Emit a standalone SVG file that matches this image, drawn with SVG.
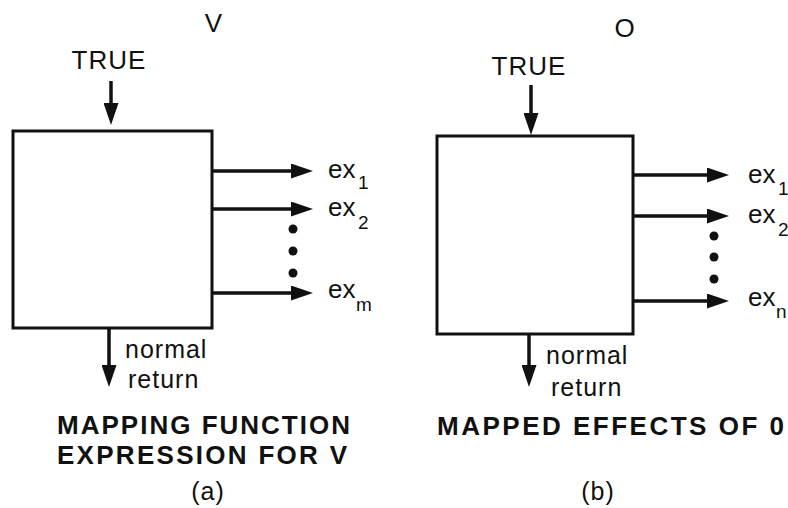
<svg xmlns="http://www.w3.org/2000/svg" width="788" height="508" viewBox="0 0 788 508">
<style>
text{font-family:"Liberation Sans",Arial,sans-serif;fill:#111}
.lbl{font-size:25px;letter-spacing:1px}
.hd{font-size:26px;letter-spacing:1px}
.ex{font-size:26px}
.sub{font-size:19px}
.ttl{font-size:26px;font-weight:bold}
.box{fill:none;stroke:#111;stroke-width:3}
.arr{stroke:#111;stroke-width:3.5;fill:none;marker-end:url(#ah)}
.dot{fill:#111}
</style>
<defs>
<marker id="ah" markerUnits="userSpaceOnUse" markerWidth="22" markerHeight="15" refX="15" refY="7.5" orient="auto">
<path d="M0,0 L22,7.5 L0,15 z" fill="#111"/>
</marker>
</defs>
<rect width="788" height="508" fill="#fff"/>
<g id="left">
<text x="214" y="32" class="hd" text-anchor="middle">V</text>
<text x="109" y="69" class="hd" text-anchor="middle">TRUE</text>
<g id="boxA"><rect class="box" x="13" y="131" width="199" height="197"/></g>
<text x="328" y="178" class="ex">ex<tspan class="sub" x="358" y="189">1</tspan></text>
<text x="328" y="216" class="ex">ex<tspan class="sub" x="358" y="229">2</tspan></text>
<text x="328" y="298" class="ex">ex<tspan class="sub" x="356" y="311">m</tspan></text>
<circle class="dot" cx="293" cy="229" r="4.5"/>
<circle class="dot" cx="293" cy="251" r="4.5"/>
<circle class="dot" cx="293" cy="273" r="4.5"/>
<text x="125" y="358" class="lbl">normal</text>
<text x="128" y="388" class="lbl">return</text>
<text x="57" y="434" class="ttl" textLength="293" lengthAdjust="spacing">MAPPING  FUNCTION</text>
<text x="57" y="464" class="ttl" textLength="290" lengthAdjust="spacing">EXPRESSION  FOR  V</text>
<text x="208" y="500" class="lbl" text-anchor="middle">(a)</text>
</g>
<g id="right">
<text x="625" y="37" class="hd" text-anchor="middle">O</text>
<text x="529" y="75" class="hd" text-anchor="middle">TRUE</text>
<g id="boxB"><rect class="box" x="437" y="136" width="196" height="198"/></g>
<text x="748" y="183" class="ex">ex<tspan class="sub" x="778" y="195">1</tspan></text>
<text x="748" y="223" class="ex">ex<tspan class="sub" x="778" y="236">2</tspan></text>
<text x="748" y="306" class="ex">ex<tspan class="sub" x="776" y="318">n</tspan></text>
<circle class="dot" cx="714" cy="236" r="4.5"/>
<circle class="dot" cx="714" cy="257" r="4.5"/>
<circle class="dot" cx="714" cy="279" r="4.5"/>
<text x="546" y="364" class="lbl">normal</text>
<text x="551" y="396" class="lbl">return</text>
<text x="437" y="435" class="ttl" textLength="347" lengthAdjust="spacing">MAPPED  EFFECTS  OF  0</text>
<text x="598" y="500" class="lbl" text-anchor="middle">(b)</text>
</g>
<g id="connectors">
<line class="arr" x1="111" y1="81" x2="111" y2="118"/>
<line class="arr" x1="212" y1="171" x2="306" y2="171"/>
<line class="arr" x1="212" y1="209" x2="306" y2="209"/>
<line class="arr" x1="212" y1="293" x2="306" y2="293"/>
<line class="arr" x1="109" y1="328" x2="109" y2="380"/>
<line class="arr" x1="531" y1="85" x2="531" y2="128"/>
<line class="arr" x1="633" y1="175" x2="722" y2="175"/>
<line class="arr" x1="633" y1="216" x2="722" y2="216"/>
<line class="arr" x1="633" y1="301" x2="722" y2="301"/>
<line class="arr" x1="529" y1="334" x2="529" y2="380"/>
</g>
</svg>
